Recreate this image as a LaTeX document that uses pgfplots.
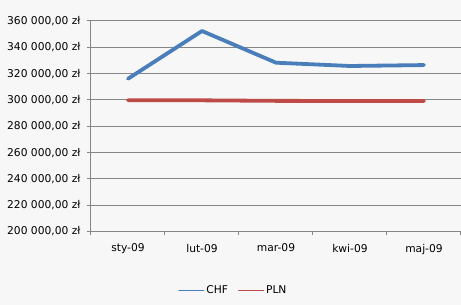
\documentclass[border=0pt]{standalone}
\usepackage{pgfplots}
\pgfplotsset{compat=1.18}
\usepackage{fontspec}
\setmainfont{DejaVu Sans}
\definecolor{bg}{HTML}{F7F7F7}
\definecolor{chf}{HTML}{4A7EBB}
\definecolor{pln}{HTML}{BE4B48}
\definecolor{gridc}{HTML}{868686}
\begin{document}
\begin{tikzpicture}
\fill[bg] (0pt,0pt) rectangle (461pt,305pt);
\useasboundingbox (0pt,0pt) rectangle (461pt,305pt);
\begin{axis}[
  at={(91pt,73.5pt)}, anchor=south west,
  scale only axis, width=370pt, height=210.5pt,
  xmin=-0.5, xmax=4.5, ymin=200000, ymax=360000,
  scaled y ticks=false,
  axis lines=left, axis line style={-, draw=gridc, line width=1pt},
  ytick={200000,220000,240000,260000,280000,300000,320000,340000,360000},
  yticklabels={200 000{,}00 zł,220 000{,}00 zł,240 000{,}00 zł,260 000{,}00 zł,280 000{,}00 zł,300 000{,}00 zł,320 000{,}00 zł,340 000{,}00 zł,360 000{,}00 zł},
  xtick={-0.5,0.5,1.5,2.5,3.5,4.5},
  x tick label as interval,
  xticklabels={sty-09,lut-09,mar-09,kwi-09,maj-09},
  tick align=outside, major tick length=4pt,
  tick style={gridc, line width=1pt},
  ymajorgrids, grid style={gridc, line width=1pt},
  tick label style={font=\fontsize{10.7}{12}\selectfont, text=black},
  yticklabel style={xshift=-3pt},
  xticklabel style={yshift=-5pt},
  legend style={at={(0.385,-0.278)}, anchor=center, draw=none, fill=none,
    legend columns=2, font=\fontsize{10.7}{12}\selectfont,
    /tikz/every even column/.append style={column sep=8pt}},
  legend image code/.code={\draw[#1, line width=1pt] (0pt,0pt) -- (25pt,0pt);},
  clip=false,
]
\addplot[chf, line width=3.8pt, line join=round, line cap=round] coordinates {
  (0,316100) (1,352400) (2,328300) (3,325800) (4,326500)};
\addlegendentry{CHF}
\addplot[pln, line width=3.8pt, line join=round, line cap=round] coordinates {
  (0,299800) (1,299700) (2,299300) (3,299200) (4,299200)};
\addlegendentry{PLN}
\end{axis}
\end{tikzpicture}
\end{document}
